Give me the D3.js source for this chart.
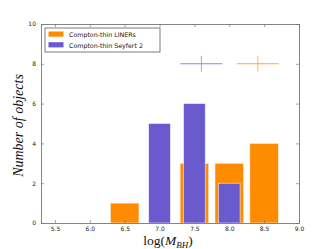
<!DOCTYPE html>
<html>
<head>
<meta charset="utf-8">
<script src="https://cdn.jsdelivr.net/npm/d3@7"></script>
<style>
  body { margin: 0; background: #fff; }
  svg { display: block; }
  .tick text { font-family: "DejaVu Sans", sans-serif; font-size: 6px; fill: #222; }
</style>
</head>
<body>
<div id="chart"></div>
<script>
// histogram bins (log M_BH centres)
var linerBins = [6.5, 7.5, 8.0, 8.5];
var linerCounts = [1, 3, 3, 4];
var seyBins = [7.0, 7.5, 8.0];
var seyCounts = [5, 6, 2];

// mean +/- error crosses
var crosses = [
  {name: "sey", x: 7.60, y: 8, xerr: 0.30, yerr: 0.4},
  {name: "liner", x: 8.41, y: 8, xerr: 0.30, yerr: 0.4}
];

var xTicks = [5.5, 6.0, 6.5, 7.0, 7.5, 8.0, 8.5, 9.0];
var yTicks = [0, 2, 4, 6, 8, 10];

var svgWidth = 332, svgHeight = 249;
var margin = {top: 24, right: 33, bottom: 26, left: 41};
var width = svgWidth - margin.left - margin.right;
var height = svgHeight - margin.top - margin.bottom;

var orange = "#ff8c00", purple = "#6a5acd";

var svg = d3.select("#chart").append("svg")
  .attr("width", svgWidth)
  .attr("height", svgHeight);

var g = svg.append("g")
  .attr("transform", `translate(${margin.left}, ${margin.top})`);

var x = d3.scaleLinear().domain([5.3, 9.0]).range([0, width]);
var y = d3.scaleLinear().domain([0, 10]).range([height, 0]);

// orange bars (wider, behind)
g.selectAll(".liner")
  .data(linerBins)
  .enter()
  .append("rect")
  .attr("x", d => x(d - 0.205))
  .attr("width", x(5.71) - x(5.3))
  .attr("y", (d, i) => y(linerCounts[i]))
  .attr("height", (d, i) => y(0) - y(linerCounts[i]))
  .attr("fill", orange)
  .attr("stroke", "#f3f0ee")
  .attr("stroke-width", 0.6);

// purple bars
g.selectAll(".sey")
  .data(seyBins)
  .enter()
  .append("rect")
  .attr("x", d => x(d - 0.155))
  .attr("width", x(5.61) - x(5.3))
  .attr("y", (d, i) => y(seyCounts[i]))
  .attr("height", (d, i) => y(0) - y(seyCounts[i]))
  .attr("fill", purple)
  .attr("stroke", "#eeeefa")
  .attr("stroke-width", 0.6);

// crosses
crosses.forEach(function(c) {
  var col = c.name === "sey" ? "#8f86e6" : "#ffa640";
  g.append("line")
    .attr("x1", x(c.x - c.xerr)).attr("x2", x(c.x + c.xerr))
    .attr("y1", y(c.y)).attr("y2", y(c.y))
    .attr("stroke", col).attr("stroke-width", 1.1);
  g.append("line")
    .attr("x1", x(c.x)).attr("x2", x(c.x))
    .attr("y1", y(c.y - c.yerr)).attr("y2", y(c.y + c.yerr))
    .attr("stroke", col).attr("stroke-width", 0.8);
});

// axes, ticks inside
var bottomAxis = d3.axisBottom(x).tickValues(xTicks).tickFormat(d3.format(".1f"))
  .tickSizeInner(-3).tickSizeOuter(0).tickPadding(3.5);
var leftAxis = d3.axisLeft(y).tickValues(yTicks).tickFormat(d3.format("d"))
  .tickSizeInner(-3).tickSizeOuter(0).tickPadding(5);
var topAxis = d3.axisTop(x).tickValues(xTicks).tickFormat("").tickSizeInner(-3).tickSizeOuter(0);
var rightAxis = d3.axisRight(y).tickValues(yTicks).tickFormat("").tickSizeInner(-3).tickSizeOuter(0);

g.append("g").attr("transform", `translate(0, ${height})`).call(bottomAxis);
g.append("g").call(leftAxis);
g.append("g").call(topAxis);
g.append("g").attr("transform", `translate(${width}, 0)`).call(rightAxis);

g.selectAll(".domain").attr("stroke", "#666").attr("stroke-width", 0.8);
g.selectAll(".tick line").attr("stroke", "#666").attr("stroke-width", 0.6);

// legend
var leg = g.append("g").attr("transform", "translate(4, 4)");
leg.append("rect")
  .attr("width", 115).attr("height", 24)
  .attr("fill", "#fff").attr("stroke", "#444").attr("stroke-width", 0.7);
var legItems = [
  {label: "Compton-thin LINERs", color: orange},
  {label: "Compton-thin Seyfert 2", color: purple}
];
legItems.forEach(function(d, i) {
  leg.append("rect")
    .attr("x", 3.5).attr("y", 3.5 + i * 10.7)
    .attr("width", 15).attr("height", 5.2)
    .attr("fill", d.color);
  leg.append("text")
    .attr("x", 24).attr("y", 8.8 + i * 10.7)
    .attr("font-family", "DejaVu Sans, sans-serif")
    .attr("font-size", "6.3px")
    .attr("fill", "#111")
    .text(d.label);
});

// y label
svg.append("text")
  .attr("transform", `translate(23, ${margin.top + height / 2 + 2}) rotate(-90)`)
  .attr("text-anchor", "middle")
  .attr("font-family", "Liberation Serif, serif")
  .attr("font-style", "italic")
  .attr("font-size", "14px")
  .attr("fill", "#111")
  .text("Number of objects");

// x label
var xl = svg.append("text")
  .attr("x", margin.left + width / 2 - 2)
  .attr("y", 245)
  .attr("text-anchor", "middle")
  .attr("font-family", "Liberation Serif, serif")
  .attr("font-size", "13.5px")
  .attr("fill", "#111");
xl.append("tspan").text("log(");
xl.append("tspan").attr("font-style", "italic").text("M");
xl.append("tspan").attr("font-style", "italic").attr("font-size", "9px").attr("dy", 2.5).text("BH");
xl.append("tspan").attr("dy", -2.5).text(")");
</script>
</body>
</html>
